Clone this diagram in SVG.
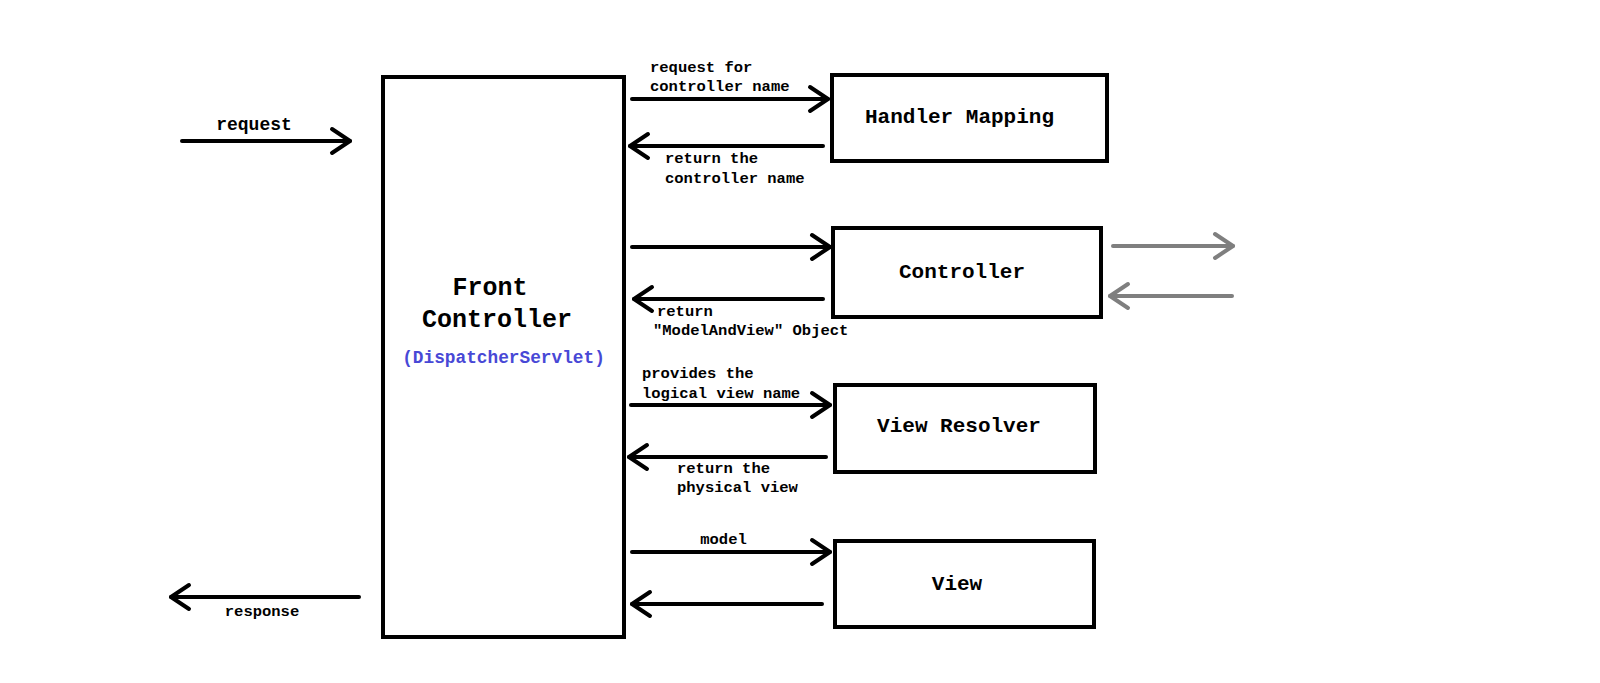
<svg xmlns="http://www.w3.org/2000/svg" width="1600" height="683" viewBox="0 0 1600 683">
<style>
.box{fill:#fff;stroke:#000;stroke-width:4}
.ln{fill:none;stroke:#000;stroke-width:4;stroke-linecap:round}
.gl{fill:none;stroke:#7f7f7f;stroke-width:4;stroke-linecap:round}
.lbl{font-family:"Liberation Mono","DejaVu Sans Mono",monospace;font-weight:bold;font-size:15.5px;fill:#000}
.ttl{font-family:"Liberation Mono","DejaVu Sans Mono",monospace;font-weight:bold;font-size:21px;fill:#000;text-anchor:middle}
.big{font-family:"Liberation Mono","DejaVu Sans Mono",monospace;font-weight:bold;font-size:25px;fill:#000;text-anchor:middle}
</style>
<defs>
<marker id="ah" markerUnits="userSpaceOnUse" markerWidth="50" markerHeight="50" viewBox="-25 -25 50 50" refX="0" refY="0" orient="auto" overflow="visible">
<path d="M-18,-12 L0,0 L-18,12" fill="none" stroke="#000" stroke-width="4" stroke-linecap="round" stroke-linejoin="round"/>
</marker>
<marker id="ahg" markerUnits="userSpaceOnUse" markerWidth="50" markerHeight="50" viewBox="-25 -25 50 50" refX="0" refY="0" orient="auto" overflow="visible">
<path d="M-18,-12 L0,0 L-18,12" fill="none" stroke="#7f7f7f" stroke-width="4" stroke-linecap="round" stroke-linejoin="round"/>
</marker>
</defs>
<rect width="1600" height="683" fill="#fff"/>
<g id="connectors">
<path class="ln" d="M182,141 L350,141" marker-end="url(#ah)"/>
<path class="ln" d="M359,597 L171,597" marker-end="url(#ah)"/>
<path class="ln" d="M632,99 L828,99" marker-end="url(#ah)"/>
<path class="ln" d="M823,146 L630,146" marker-end="url(#ah)"/>
<path class="ln" d="M632,247 L830,247" marker-end="url(#ah)"/>
<path class="ln" d="M823,299 L634,299" marker-end="url(#ah)"/>
<path class="gl" d="M1113,246 L1233,246" marker-end="url(#ahg)"/>
<path class="gl" d="M1232,296 L1110,296" marker-end="url(#ahg)"/>
<path class="ln" d="M631,405 L830,405" marker-end="url(#ah)"/>
<path class="ln" d="M826,457 L629,457" marker-end="url(#ah)"/>
<path class="ln" d="M632,552 L830,552" marker-end="url(#ah)"/>
<path class="ln" d="M822,604 L632,604" marker-end="url(#ah)"/>
<text class="lbl" x="254" y="130" text-anchor="middle" style="font-size:18px">request</text>
<text class="lbl" x="262" y="616" text-anchor="middle">response</text>
<text class="lbl" x="650" y="72">request for</text>
<text class="lbl" x="650" y="91">controller name</text>
<text class="lbl" x="665" y="163">return the</text>
<text class="lbl" x="665" y="183">controller name</text>
<text class="lbl" x="657" y="316">return</text>
<text class="lbl" x="653" y="335">"ModelAndView" Object</text>
<text class="lbl" x="642" y="378">provides the</text>
<text class="lbl" x="642" y="398">logical view name</text>
<text class="lbl" x="677" y="473">return the</text>
<text class="lbl" x="677" y="492">physical view</text>
<text class="lbl" x="723.5" y="544" text-anchor="middle">model</text>
</g>
<g id="front-controller">
<rect class="box" x="383" y="77" width="241" height="560"/>
<text class="big" x="490" y="295">Front</text>
<text class="big" x="497" y="327">Controller</text>
<text class="lbl" x="503.5" y="363" text-anchor="middle" style="font-size:17.8px;fill:#4848d6">(DispatcherServlet)</text>
</g>
<g id="handler-mapping">
<rect class="box" x="832" y="75" width="275" height="86"/>
<text class="ttl" x="959.5" y="123">Handler Mapping</text>
</g>
<g id="controller">
<rect class="box" x="833" y="228" width="268" height="89"/>
<text class="ttl" x="962" y="278">Controller</text>
</g>
<g id="view-resolver">
<rect class="box" x="835" y="385" width="260" height="87"/>
<text class="ttl" x="959" y="432">View Resolver</text>
</g>
<g id="view">
<rect class="box" x="835" y="541" width="259" height="86"/>
<text class="ttl" x="957" y="590">View</text>
</g>
</svg>
